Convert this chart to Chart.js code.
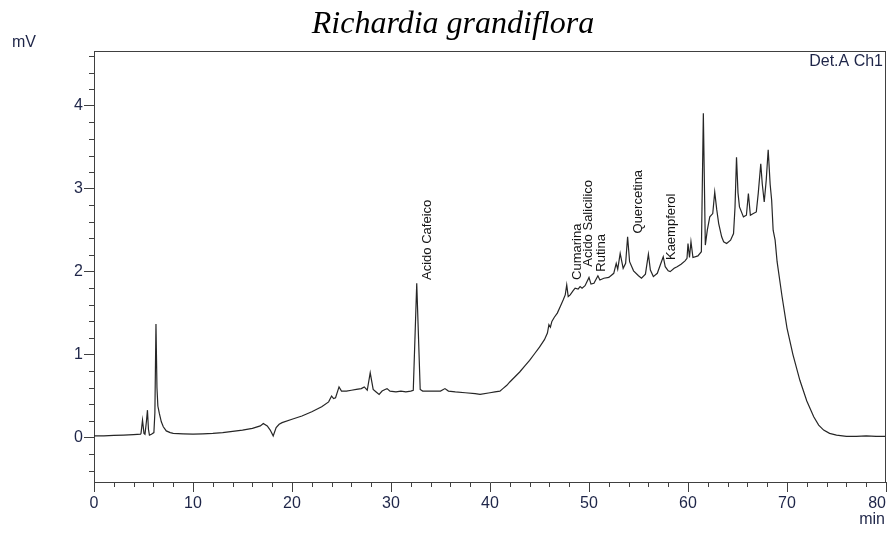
<!DOCTYPE html>
<html>
<head>
<meta charset="utf-8">
<script src="https://cdn.jsdelivr.net/npm/chart.js@4/dist/chart.umd.min.js"></script>
<style>
  html, body { margin: 0; padding: 0; background: #fff; }
  #wrap { width: 891px; height: 534px; }
</style>
</head>
<body>
<div id="wrap"><canvas id="chrom" width="891" height="534"></canvas></div>
<script>
// Retention time (min) and detector signal (mV), Det.A Ch1
const retentionTime = [
  0.0, 1.0, 2.0, 3.0, 4.0, 4.7, 4.75, 4.9, 5.05, 5.15, 5.3, 5.4, 5.5, 5.6, 5.8, 6.05, 6.15, 6.26, 6.36, 6.45,
  6.6, 6.8, 7.0, 7.3, 7.7, 8.0, 9.0, 10.0, 11.0, 12.0, 13.0, 14.0, 15.0, 16.0, 16.8, 17.1, 17.5, 17.8, 18.1, 18.4,
  18.7, 19.0, 20.0, 21.0, 22.0, 23.0, 23.7, 24.0, 24.2, 24.4, 24.75, 25.0, 25.5, 26.0, 26.5, 27.0, 27.3, 27.6, 27.9, 28.2,
  28.5, 28.8, 29.1, 29.4, 29.6, 29.9, 30.5, 31.0, 31.5, 32.0, 32.25, 32.6, 32.95, 33.2, 34.0, 35.0, 35.45, 35.8, 36.5, 37.5,
  38.5, 39.0, 40.0, 40.5, 41.0, 41.3, 41.7, 42.0, 42.5, 43.0, 43.5, 44.0, 44.5, 45.0, 45.5, 45.8, 45.95, 46.1, 46.25, 46.5,
  46.8, 47.1, 47.4, 47.6, 47.75, 47.9, 48.1, 48.4, 48.6, 48.9, 49.1, 49.3, 49.6, 50.0, 50.2, 50.5, 50.9, 51.1, 51.5, 52.0,
  52.3, 52.5, 52.75, 52.9, 53.15, 53.45, 53.7, 53.9, 54.1, 54.5, 55.0, 55.3, 55.7, 56.0, 56.2, 56.5, 56.9, 57.2, 57.5, 57.7,
  58.0, 58.2, 58.6, 58.9, 59.3, 59.7, 59.9, 60.0, 60.15, 60.3, 60.5, 61.0, 61.35, 61.55, 61.75, 61.95, 62.2, 62.5, 62.7, 62.9,
  63.1, 63.4, 63.6, 63.9, 64.3, 64.6, 64.75, 64.9, 65.05, 65.2, 65.6, 65.9, 66.1, 66.3, 66.6, 66.9, 67.1, 67.35, 67.5, 67.7,
  67.9, 68.1, 68.3, 68.45, 68.6, 68.8, 69.0, 69.5, 70.0, 70.6, 71.3, 72.0, 72.7, 73.2, 73.7, 74.3, 75.0, 76.0, 77.0, 78.0,
  79.0, 80.0
];
const signal = [
  0.02, 0.02, 0.025, 0.03, 0.035, 0.04, 0.05, 0.21, 0.05, 0.04, 0.2, 0.33, 0.1, 0.03, 0.04, 0.06, 0.3, 1.37, 0.6, 0.38,
  0.29, 0.19, 0.13, 0.08, 0.06, 0.05, 0.045, 0.04, 0.045, 0.05, 0.06, 0.075, 0.09, 0.11, 0.14, 0.17, 0.14, 0.09, 0.02, 0.12,
  0.16, 0.18, 0.22, 0.26, 0.31, 0.37, 0.43, 0.5, 0.47, 0.48, 0.61, 0.56, 0.56, 0.57, 0.58, 0.59, 0.61, 0.57, 0.78, 0.58,
  0.55, 0.52, 0.56, 0.58, 0.59, 0.56, 0.55, 0.56, 0.55, 0.56, 0.57, 1.86, 0.58, 0.56, 0.56, 0.56, 0.59, 0.56, 0.55, 0.54,
  0.53, 0.52, 0.54, 0.55, 0.56, 0.59, 0.63, 0.67, 0.73, 0.79, 0.86, 0.93, 1.01, 1.09, 1.18, 1.26, 1.36, 1.33, 1.40, 1.45,
  1.50, 1.58, 1.66, 1.72, 1.84, 1.70, 1.72, 1.77, 1.80, 1.79, 1.82, 1.80, 1.83, 1.93, 1.85, 1.86, 1.95, 1.90, 1.92, 1.93,
  1.96, 1.98, 2.10, 2.03, 2.22, 2.04, 2.10, 2.42, 2.12, 2.01, 1.95, 1.92, 1.97, 2.21, 2.02, 1.94, 1.98, 2.08, 2.18, 2.06,
  2.01, 2.00, 2.04, 2.06, 2.09, 2.13, 2.16, 2.34, 2.17, 2.36, 2.17, 2.19, 2.24, 3.91, 2.32, 2.50, 2.66, 2.70, 2.96, 2.75,
  2.58, 2.42, 2.36, 2.34, 2.38, 2.46, 2.78, 3.38, 2.95, 2.78, 2.66, 2.68, 2.94, 2.68, 2.70, 2.72, 2.95, 3.30, 3.06, 2.84,
  3.10, 3.47, 3.05, 2.86, 2.50, 2.38, 2.12, 1.70, 1.32, 1.00, 0.69, 0.44, 0.25, 0.15, 0.09, 0.05, 0.03, 0.015, 0.015, 0.02,
  0.015, 0.015
];

// Identified compounds: label text, label centre (min) and label foot (mV)
const peakNames = ['Acido Cafeico', 'Cumarina', 'Acido Salicilico', 'Rutina', 'Quercetina', 'Kaempferol'];
const peakLabelTime = [33.64, 48.8, 49.9, 51.25, 54.95, 58.3];
const peakLabelBase = [1.90, 1.90, 2.06, 2.00, 2.46, 2.14];

// Axis ticks
const xMajorTicks = [0, 10, 20, 30, 40, 50, 60, 70, 80];
const yMajorTicks = [0, 1, 2, 3, 4];
const xMinorStep = 2;
const yMinorStep = 0.2;

const X_MIN = 0, X_MAX = 80, Y_MIN = -0.536, Y_MAX = 4.66;
const AXIS_COLOR = '#404040';
const TICK_TEXT = '#1e2548';
const SANS = '"Liberation Sans", Arial, sans-serif';

const isMajorX = v => xMajorTicks.some(m => Math.abs(m - v) < 1e-6);
const isMajorY = v => yMajorTicks.some(m => Math.abs(m - v) < 1e-6);

const points = retentionTime.map((t, i) => ({ x: t, y: signal[i] }));

// Keep the last time label inside the canvas: right-align it on its tick
const lastLabelInside = {
  id: 'lastLabelInside',
  beforeDraw(chart) {
    const sx = chart.scales.x;
    const items = sx.getLabelItems();
    for (let i = items.length - 1; i >= 0; i--) {
      if (items[i].label !== '') {
        const it = items[i];
        it.options.textAlign = 'right';
        it.options.translation[0] = sx.getPixelForValue(X_MAX);
        break;
      }
    }
  }
};

// Frame, short minor ticks and text annotations
const decorations = {
  id: 'decorations',
  afterDraw(chart) {
    const { ctx, chartArea: a, scales } = chart;
    ctx.save();
    ctx.strokeStyle = AXIS_COLOR;
    ctx.lineWidth = 1;
    ctx.beginPath();
    ctx.moveTo(a.left, a.top + 0.5); ctx.lineTo(a.right, a.top + 0.5);
    ctx.moveTo(a.right - 0.5, a.top); ctx.lineTo(a.right - 0.5, a.bottom);
    ctx.stroke();

    ctx.beginPath();
    scales.x.ticks.forEach(t => {
      if (isMajorX(t.value)) return;
      const px = Math.round(scales.x.getPixelForValue(t.value)) + 0.5;
      ctx.moveTo(px, a.bottom); ctx.lineTo(px, a.bottom + 5);
    });
    scales.y.ticks.forEach(t => {
      if (isMajorY(t.value)) return;
      const py = Math.round(scales.y.getPixelForValue(t.value)) + 0.5;
      ctx.moveTo(a.left - 5, py); ctx.lineTo(a.left, py);
    });
    ctx.stroke();

    // compound names, written upwards from just above each peak
    ctx.fillStyle = '#141414';
    ctx.font = '13px ' + SANS;
    peakNames.forEach((name, i) => {
      const px = scales.x.getPixelForValue(peakLabelTime[i]);
      const py = scales.y.getPixelForValue(peakLabelBase[i]);
      ctx.save();
      ctx.translate(px, py);
      ctx.rotate(-Math.PI / 2);
      ctx.textAlign = 'left';
      ctx.textBaseline = 'middle';
      ctx.fillText(name, 0, 0);
      ctx.restore();
    });

    // title and axis captions
    ctx.fillStyle = '#000';
    ctx.font = 'italic 32px "Liberation Serif", "Times New Roman", serif';
    ctx.textAlign = 'center';
    ctx.textBaseline = 'alphabetic';
    ctx.fillText('Richardia grandiflora', 453, 33);

    ctx.fillStyle = TICK_TEXT;
    ctx.font = '16px ' + SANS;
    ctx.textAlign = 'left';
    ctx.fillText('mV', 12, 47);
    ctx.textAlign = 'right';
    ctx.fillText('min', 885, 524);
    ctx.fillText('Det.A Ch1', 883, 66);
    ctx.restore();
  }
};

new Chart(document.getElementById('chrom'), {
  type: 'scatter',
  data: {
    datasets: [{
      data: points,
      showLine: true,
      borderColor: '#262626',
      borderWidth: 1.2,
      pointRadius: 0,
      tension: 0,
      fill: false
    }]
  },
  options: {
    responsive: false,
    animation: false,
    devicePixelRatio: 1,
    layout: { padding: { top: 51, right: 5, left: 0, bottom: 0 } },
    plugins: { legend: { display: false }, tooltip: { enabled: false }, title: { display: false } },
    scales: {
      x: {
        type: 'linear', min: X_MIN, max: X_MAX,
        afterBuildTicks: s => {
          const t = [];
          for (let k = 0; k * xMinorStep <= X_MAX + 1e-9; k++) t.push({ value: k * xMinorStep });
          s.ticks = t;
        },
        afterFit: s => { s.height = 52; s.paddingLeft = 0; s.paddingRight = 0; },
        grid: {
          display: true, drawOnChartArea: false, drawTicks: true, tickLength: 10,
          tickColor: c => (c.tick && isMajorX(c.tick.value)) ? AXIS_COLOR : 'rgba(0,0,0,0)'
        },
        border: { display: true, color: AXIS_COLOR, width: 1 },
        ticks: {
          autoSkip: false, maxRotation: 0, padding: 2, color: TICK_TEXT,
          font: { family: SANS, size: 16 },
          callback: v => isMajorX(v) ? String(Math.round(v)) : ''
        }
      },
      y: {
        type: 'linear', min: Y_MIN, max: Y_MAX,
        afterBuildTicks: s => {
          const t = [];
          for (let k = -2; k <= 23; k++) t.push({ value: Math.round(k * yMinorStep * 10) / 10 });
          s.ticks = t;
        },
        afterFit: s => { s.width = 94; s.paddingTop = 0; s.paddingBottom = 0; },
        grid: {
          display: true, drawOnChartArea: false, drawTicks: true, tickLength: 10,
          tickColor: c => (c.tick && isMajorY(c.tick.value)) ? AXIS_COLOR : 'rgba(0,0,0,0)'
        },
        border: { display: true, color: AXIS_COLOR, width: 1 },
        ticks: {
          autoSkip: false, padding: 1, color: TICK_TEXT,
          font: { family: SANS, size: 16 },
          callback: v => isMajorY(v) ? String(Math.round(v)) : ''
        }
      }
    }
  },
  plugins: [lastLabelInside, decorations]
});
</script>
</body>
</html>
